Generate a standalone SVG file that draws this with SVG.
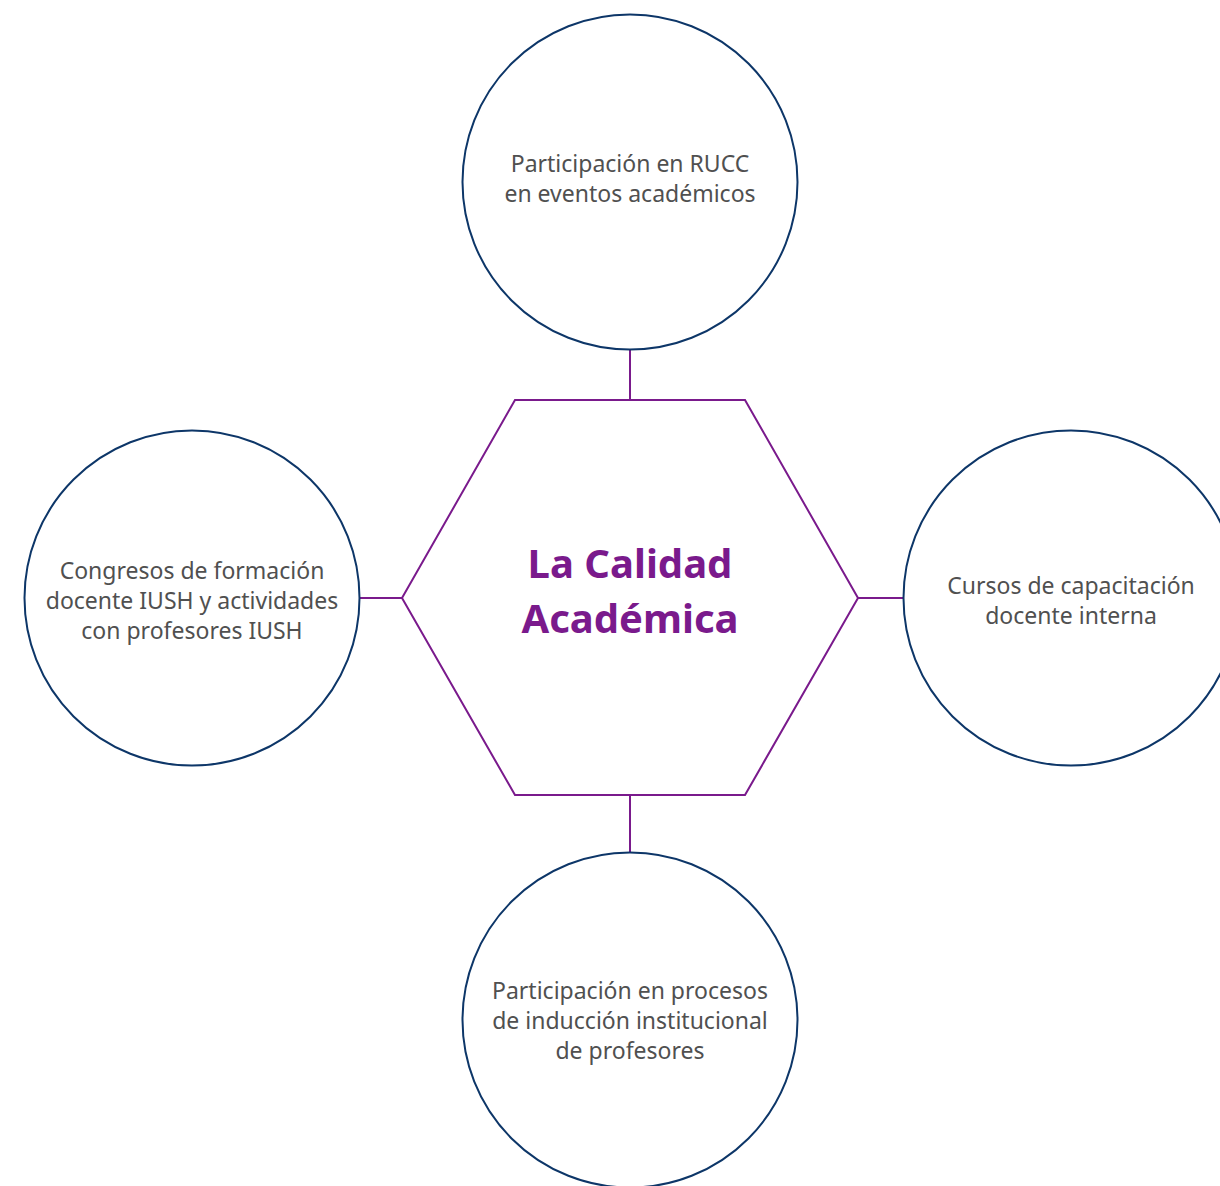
<svg xmlns="http://www.w3.org/2000/svg" width="1220" height="1186" viewBox="0 0 1220 1186">
<style>
.c{fill:#fff;stroke:#0d3668;stroke-width:2}
.h{fill:#fff;stroke:#7a1a8c;stroke-width:2}
.l{stroke:#7a1a8c;stroke-width:2;fill:none}
.t{font-family:"Noto Sans","Open Sans",sans-serif;font-size:23px;fill:#505050;text-anchor:middle}
.tt{font-family:"Noto Sans","Open Sans",sans-serif;font-size:40px;font-weight:bold;fill:#7a1a8c;text-anchor:middle}
</style>
<rect width="1220" height="1186" fill="#fff"/>
<g id="connectors">
<line class="l" x1="630" y1="350" x2="630" y2="400"/>
<line class="l" x1="359" y1="598" x2="402" y2="598"/>
<line class="l" x1="858" y1="598" x2="904" y2="598"/>
<line class="l" x1="630" y1="795" x2="630" y2="853"/>
</g>
<g id="center">
<polygon class="h" points="515,400 745,400 858,598 745,795 515,795 402,598"/>
<text class="tt" x="630" y="578">La Calidad</text>
<text class="tt" x="630" y="633">Académica</text>
</g>
<g id="top">
<circle class="c" cx="630" cy="182" r="167.5"/>
<text class="t" x="630" y="172">Participación en RUCC</text>
<text class="t" x="630" y="202">en eventos académicos</text>
</g>
<g id="left">
<circle class="c" cx="192" cy="598" r="167.5"/>
<text class="t" x="192" y="579">Congresos de formación</text>
<text class="t" x="192" y="609">docente IUSH y actividades</text>
<text class="t" x="192" y="639">con profesores IUSH</text>
</g>
<g id="right">
<circle class="c" cx="1071" cy="598" r="167.5"/>
<text class="t" x="1071" y="594">Cursos de capacitación</text>
<text class="t" x="1071" y="624">docente interna</text>
</g>
<g id="bottom">
<circle class="c" cx="630" cy="1020" r="167.5"/>
<text class="t" x="630" y="999">Participación en procesos</text>
<text class="t" x="630" y="1029">de inducción institucional</text>
<text class="t" x="630" y="1059">de profesores</text>
</g>
</svg>
